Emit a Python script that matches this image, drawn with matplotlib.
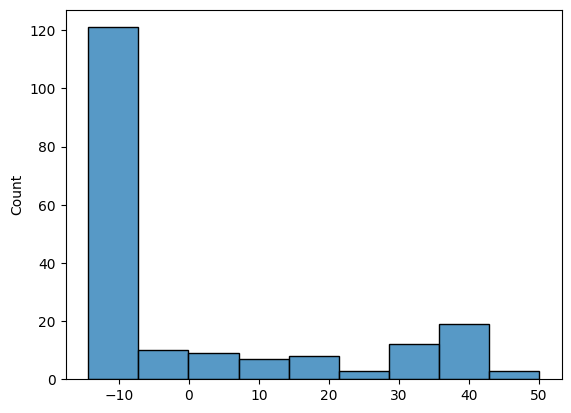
import matplotlib
matplotlib.use("Agg")
import matplotlib.pyplot as plt
import seaborn as sns

# bin edges and counts
bin_edges = [-14.4, -7.24, -0.08, 7.18, 14.33, 21.48, 28.62, 35.76, 42.91, 50.05]
counts = [121, 10, 9, 7, 8, 3, 12, 19, 3]

# one weighted point per bin, placed at the bin's left edge
bin_starts = bin_edges[:-1]

fig, ax = plt.subplots(figsize=(6.4, 4.8), dpi=100)
sns.histplot(x=bin_starts, weights=counts, bins=bin_edges, ax=ax)
ax.set_xticks([-10, 0, 10, 20, 30, 40, 50])
ax.set_yticks([0, 20, 40, 60, 80, 100, 120])

fig.savefig("out.png", bbox_inches="tight")
